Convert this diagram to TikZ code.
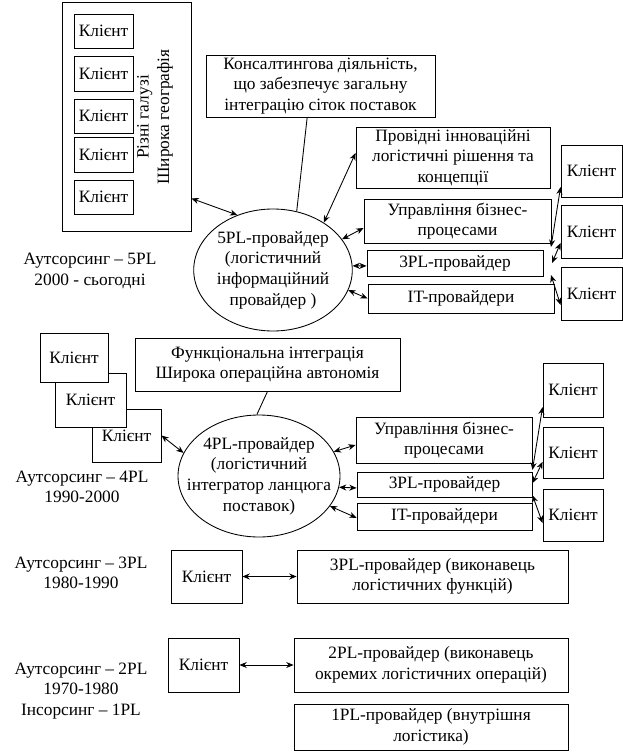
\documentclass[tikz,border=0pt]{standalone}
\usepackage{fontspec}
\setmainfont{Liberation Serif}
\usetikzlibrary{shapes.geometric,arrows.meta}

\begin{document}
\begin{tikzpicture}[x=0.75pt,y=-0.75pt,
  font=\fontsize{13}{15.5}\selectfont,
  line width=0.65pt,
  sz/.style 2 args={minimum width=#1*0.75pt, minimum height=#2*0.75pt},
  box/.style={draw, align=center, inner sep=1pt},
  oval/.style={draw, ellipse, align=center, inner sep=0pt},
  arr/.style={{Stealth[length=5.5pt,width=4.5pt]}-{Stealth[length=5.5pt,width=4.5pt]}}]

\useasboundingbox (0,0) rectangle (623,752);

% 5PL: clients of many sectors (left frame)
\node[box, sz={129}{229}] (sector) at (126.5,116.5) {};
\node[box, sz={59}{34}] (k5-1) at (103.5,31) {Клієнт};
\node[box, sz={59}{35}] (k5-2) at (103.5,73.5) {Клієнт};
\node[box, sz={59}{34}] (k5-3) at (103.5,116) {Клієнт};
\node[box, sz={59}{35}] (k5-4) at (103.5,155) {Клієнт};
\node[box, sz={59}{34}] (k5-5) at (103.5,197) {Клієнт};
\node[rotate=90, align=center] (sectorlbl) at (155,117) {Різні галузі\\Широка географія};
\node[align=center] (era5) at (90,271) {Аутсорсинг – 5PL\\2000 - сьогодні};

% 5PL provider and its services
\node[oval, sz={156}{122}] (pl5) at (273,270) {5PL-провайдер\\(логістичний\\інформаційний\\провайдер )};
\node[box, sz={229}{62}] (consult) at (320.5,86) {Консалтингова діяльність,\\що забезпечує загальну\\інтеграцію сіток поставок};
\node[box, sz={194}{61}] (innov) at (453,157.5) {Провідні інноваційні\\логістичні рішення та\\концепції};
\node[box, sz={187}{44}] (bpm5) at (457.5,221) {Управління бізнес-\\процесами};
\node[box, sz={176}{26}] (tpl5) at (455,263) {3PL-провайдер};
\node[box, sz={186}{29}] (it5) at (461,298.5) {IT-провайдери};

% 5PL: clients on the right
\node[box, sz={61}{52}] (c5-1) at (591.5,171) {Клієнт};
\node[box, sz={61}{53}] (c5-2) at (591.5,231.5) {Клієнт};
\node[box, sz={61}{53}] (c5-3) at (591.5,293.5) {Клієнт};
\coordinate (h5-1) at (551,247);
\coordinate (h5-2) at (552,263);
\coordinate (h5-3) at (551,275);

% 5PL connectors
\draw ([xshift=-10pt]consult.south) -- (pl5.68);
\draw[arr] ([yshift=24.75pt]sector.south east) -- (pl5.123);
\draw[arr] (pl5.43) -- ([yshift=3.4pt]innov.west);
\draw[arr] (pl5.24) -- ([yshift=-5.25pt]bpm5.west);
\draw[arr] (pl5.3) -- ([yshift=-2.2pt]tpl5.west);
\draw[arr] (pl5.-15) -- (it5.west);
\draw[arr] (h5-1) -- ([yshift=-12pt]c5-1.west);
\draw[arr] (h5-2) -- ([yshift=-8.6pt]c5-2.west);
\draw[arr] (h5-3) -- ([yshift=-8.6pt]c5-3.west);

% 4PL: stacked clients (back to front)
\node[box, fill=white, sz={69}{53}] (k4-3) at (126.5,435.5) {Клієнт};
\node[box, fill=white, sz={71}{54}] (k4-2) at (90.5,400) {Клієнт};
\node[box, fill=white, sz={68}{49}] (k4-1) at (74,357.5) {Клієнт};
\node[align=center] (era4) at (82,487) {Аутсорсинг – 4PL\\1990-2000};

% 4PL provider and its services
\node[box, sz={265}{53}] (func4) at (267.5,364.5) {Функціональна інтеграція\\Широка операційна автономія};
\node[oval, inner xsep=-22pt, sz={162}{122}] (pl4) at (259,476) {4PL-провайдер\\(логістичний\\інтегратор ланцюга\\поставок)};
\node[box, sz={176}{46}] (bpm4) at (444,440) {Управління бізнес-\\процесами};
\node[box, sz={175}{25}] (tpl4) at (444.5,484.5) {3PL-провайдер};
\node[box, sz={175}{27}] (it4) at (444.5,516.5) {IT-провайдери};
\node[box, sz={60}{54}] (c4-1) at (573,390) {Клієнт};
\node[box, sz={60}{51}] (c4-2) at (573,452.5) {Клієнт};
\node[box, sz={60}{52}] (c4-3) at (573,515) {Клієнт};

% 4PL connectors
\draw (func4.south) -- (pl4.92);
\draw[arr] (k4-3.east) -- (pl4.163);
\draw[arr] (pl4.18) -- ([yshift=-3.75pt]bpm4.west);
\draw[arr] (pl4.-8) -- ([yshift=-2.6pt]tpl4.west);
\draw[arr] (pl4.-23) -- ([yshift=-1pt]it4.west);
\draw[arr] ([yshift=10.9pt]tpl4.east) -- ([yshift=-12.75pt]c4-1.west);
\draw[arr] ([yshift=1pt]tpl4.east) -- ([yshift=-7pt]c4-2.west);
\draw[arr] ([yshift=-8pt]tpl4.east) -- ([yshift=-6pt]c4-3.west);

% 3PL
\node[align=center] (era3) at (81,573) {Аутсорсинг – 3PL\\1980-1990};
\node[box, sz={71}{53}] (k3) at (206.5,576.5) {Клієнт};
\node[box, sz={271}{53}] (p3) at (432.5,576.5) {3PL-провайдер (виконавець\\логістичних функцій)};
\draw[arr] (k3.east) -- (p3.west);

% 2PL and 1PL
\node[align=center] (era2) at (81,691) {Аутсорсинг – 2PL\\1970-1980\\Інсорсинг – 1PL};
\node[box, sz={71}{54}] (k2) at (203.5,665) {Клієнт};
\node[box, sz={274}{54}] (p2) at (431,665) {2PL-провайдер (виконавець\\окремих логістичних операцій)};
\node[box, sz={274}{46}] (p1) at (431,727) {1PL-провайдер (внутрішня\\логістика)};
\draw[arr] (k2.east) -- (p2.west);

\end{tikzpicture}
\end{document}
